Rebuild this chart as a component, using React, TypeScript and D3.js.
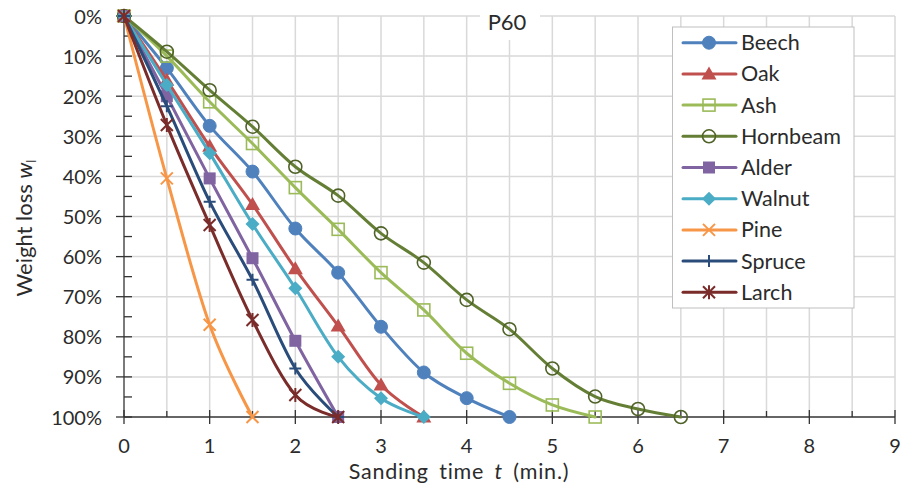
import React from "react";
import * as d3 from "d3";

const times = [0, 0.5, 1, 1.5, 2, 2.5, 3, 3.5, 4, 4.5, 5, 5.5, 6, 6.5];
const xTicks = [0, 1, 2, 3, 4, 5, 6, 7, 8, 9];
const yTicks = [0, 10, 20, 30, 40, 50, 60, 70, 80, 90, 100];

const beech = [0, 13, 27.4, 38.8, 53, 64, 77.5, 88.9, 95.3, 100];
const oak = [0, 16, 32.5, 47, 63, 77.3, 92, 100];
const ash = [0, 10, 21.4, 31.8, 42.8, 53.2, 64, 73.3, 84.1, 91.6, 97, 100];
const hornbeam = [0, 8.9, 18.5, 27.6, 37.6, 44.8, 54.2, 61.5, 70.8, 78.1, 87.9, 94.9, 98, 100];
const alder = [0, 20, 40.5, 60.4, 81, 100];
const walnut = [0, 17.2, 34.2, 51.9, 67.9, 85, 95.3, 100];
const pine = [0, 40.5, 77, 100];
const spruce = [0, 22.5, 46.3, 65.8, 87.9, 100];
const larch = [0, 27.2, 52.1, 75.8, 94.5, 100];

type Marker = "circle" | "triangle" | "squareOpen" | "circleOpen" | "square" | "diamond" | "x" | "plus" | "star";

const series: { name: string; values: number[]; color: string; markerStroke?: string; marker: Marker }[] = [
  { name: "Beech", values: beech, color: "#4F81BD", marker: "circle" },
  { name: "Oak", values: oak, color: "#C0504D", marker: "triangle" },
  { name: "Ash", values: ash, color: "#9BBB59", marker: "squareOpen" },
  { name: "Hornbeam", values: hornbeam, color: "#647F35", markerStroke: "#4F6228", marker: "circleOpen" },
  { name: "Alder", values: alder, color: "#8064A2", marker: "square" },
  { name: "Walnut", values: walnut, color: "#4BACC6", marker: "diamond" },
  { name: "Pine", values: pine, color: "#F79646", marker: "x" },
  { name: "Spruce", values: spruce, color: "#2A4C7A", marker: "plus" },
  { name: "Larch", values: larch, color: "#7A2C2A", marker: "star" },
];

const FONT = "Lato, 'Open Sans', sans-serif";
const TEXT = "#2b2b2b";

function MarkerShape({ type, x, y, color, stroke }: { type: Marker; x: number; y: number; color: string; stroke?: string }) {
  switch (type) {
    case "circle":
      return <circle cx={x} cy={y} r={6.5} fill={color} stroke={color} strokeWidth={1} />;
    case "circleOpen":
      return <circle cx={x} cy={y} r={6.5} fill="none" stroke={stroke || color} strokeWidth={1.6} />;
    case "triangle":
      return <path d={`M${x},${y - 7.5}L${x + 7.5},${y + 5.5}L${x - 7.5},${y + 5.5}Z`} fill={color} />;
    case "squareOpen":
      return <rect x={x - 6} y={y - 6} width={12} height={12} fill="none" stroke={color} strokeWidth={1.6} />;
    case "square":
      return <rect x={x - 6} y={y - 6} width={12} height={12} fill={color} />;
    case "diamond":
      return <path d={`M${x},${y - 7}L${x + 7},${y}L${x},${y + 7}L${x - 7},${y}Z`} fill={color} />;
    case "x":
      return <path d={`M${x - 6},${y - 6}L${x + 6},${y + 6}M${x - 6},${y + 6}L${x + 6},${y - 6}`} stroke={color} strokeWidth={2} />;
    case "plus":
      return <path d={`M${x},${y - 6}L${x},${y + 6}M${x - 6},${y}L${x + 6},${y}`} stroke={color} strokeWidth={2} />;
    case "star":
      return (
        <path
          d={`M${x - 6},${y - 6}L${x + 6},${y + 6}M${x - 6},${y + 6}L${x + 6},${y - 6}M${x},${y - 7}L${x},${y + 7}`}
          stroke={color}
          strokeWidth={2}
        />
      );
  }
  return null;
}

export default function App() {
  const x = d3.scaleLinear().domain([0, 9]).range([124, 895]);
  const y = d3.scaleLinear().domain([0, 100]).range([16, 417]);
  const line = d3
    .line<[number, number]>()
    .x((d) => x(d[0]))
    .y((d) => y(d[1]))
    .curve(d3.curveCatmullRom.alpha(0));

  const halfTicks = d3.range(0.5, 9.01, 0.5);
  const minorY = d3.range(5, 100, 10);

  const legX = 672.5;
  const legY = 27;
  const legStep = 31.2;

  return (
    <svg width={902} height={488} style={{ display: "block", background: "#fff" }}>
      <style>{`body{margin:0}`}</style>
      {/* gridlines */}
      {halfTicks.map((t) => (
        <line key={"gx" + t} x1={x(t)} x2={x(t)} y1={y(0)} y2={y(100)} stroke="#D9D9D9" strokeWidth={1.5} />
      ))}
      {yTicks.slice(0, -1).map((v) => (
        <line key={"gy" + v} x1={x(0)} x2={x(9)} y1={y(v)} y2={y(v)} stroke="#D9D9D9" strokeWidth={1.5} />
      ))}
      {/* P60 label box */}
      <rect x={480} y={0} width={60} height={40} fill="#fff" />
      <text x={507} y={30} textAnchor="middle" fontFamily={FONT} fontSize={22} fill={TEXT}>
        P60
      </text>
      {/* axes */}
      <line x1={x(0)} x2={x(0)} y1={y(0)} y2={y(100)} stroke="#333" strokeWidth={1.3} />
      <line x1={x(0)} x2={x(9)} y1={y(100)} y2={y(100)} stroke="#333" strokeWidth={1.3} />
      {yTicks.map((v) => (
        <line key={"ty" + v} x1={x(0) - 8} x2={x(0) + 8} y1={y(v)} y2={y(v)} stroke="#333" strokeWidth={1.3} />
      ))}
      {minorY.map((v) => (
        <line key={"my" + v} x1={x(0)} x2={x(0) + 8} y1={y(v)} y2={y(v)} stroke="#333" strokeWidth={1.3} />
      ))}
      {xTicks.map((t) => (
        <line key={"tx" + t} x1={x(t)} x2={x(t)} y1={y(100) - 7} y2={y(100) + 7} stroke="#333" strokeWidth={1.3} />
      ))}
      {xTicks.slice(0, -1).map((t) => (
        <line key={"mx" + t} x1={x(t + 0.5)} x2={x(t + 0.5)} y1={y(100) - 6} y2={y(100)} stroke="#333" strokeWidth={1.3} />
      ))}
      {/* tick labels */}
      {yTicks.map((v) => (
        <text key={"ly" + v} x={102} y={y(v) + 7.5} textAnchor="end" fontFamily={FONT} fontSize={20} fill={TEXT}>
          {v}%
        </text>
      ))}
      {xTicks.map((t) => (
        <text key={"lx" + t} x={x(t)} y={453} textAnchor="middle" fontFamily={FONT} fontSize={20} fill={TEXT}>
          {t}
        </text>
      ))}
      {/* axis titles */}
      <text
        x={459}
        y={478.5}
        textAnchor="middle"
        fontFamily={FONT}
        fontSize={21.5}
        letterSpacing={0.8}
        wordSpacing={4}
        fill={TEXT}
      >
        Sanding time <tspan fontStyle="italic">t</tspan> (min.)
      </text>
      <text
        transform="translate(32,228) rotate(-90)"
        textAnchor="middle"
        fontFamily={FONT}
        fontSize={22}
        fill={TEXT}
      >
        Weight loss <tspan fontStyle="italic">w</tspan>
        <tspan fontSize={13} dy={4}>l</tspan>
      </text>
      {/* series */}
      {series.map((s) => {
        const pts: [number, number][] = s.values.map((v, i) => [times[i], v]);
        return (
          <g key={s.name}>
            <path d={line(pts) || ""} fill="none" stroke={s.color} strokeWidth={3} strokeLinejoin="round" strokeLinecap="round" />
            {pts.map((p, i) => (
              <MarkerShape key={i} type={s.marker} x={x(p[0])} y={y(p[1])} color={s.color} stroke={s.markerStroke} />
            ))}
          </g>
        );
      })}
      {/* legend */}
      <rect x={legX} y={legY} width={181.5} height={281} fill="#fff" stroke="#BFBFBF" strokeWidth={1} />
      {series.map((s, i) => {
        const cy = legY + 15.7 + i * legStep;
        return (
          <g key={"leg" + s.name}>
            <line x1={683} x2={736} y1={cy} y2={cy} stroke={s.color} strokeWidth={3} strokeLinecap="round" />
            <MarkerShape type={s.marker} x={709} y={cy} color={s.color} stroke={s.markerStroke} />
            <text x={741} y={cy + 7.5} fontFamily={FONT} fontSize={21.5} fill={TEXT}>
              {s.name}
            </text>
          </g>
        );
      })}
    </svg>
  );
}
